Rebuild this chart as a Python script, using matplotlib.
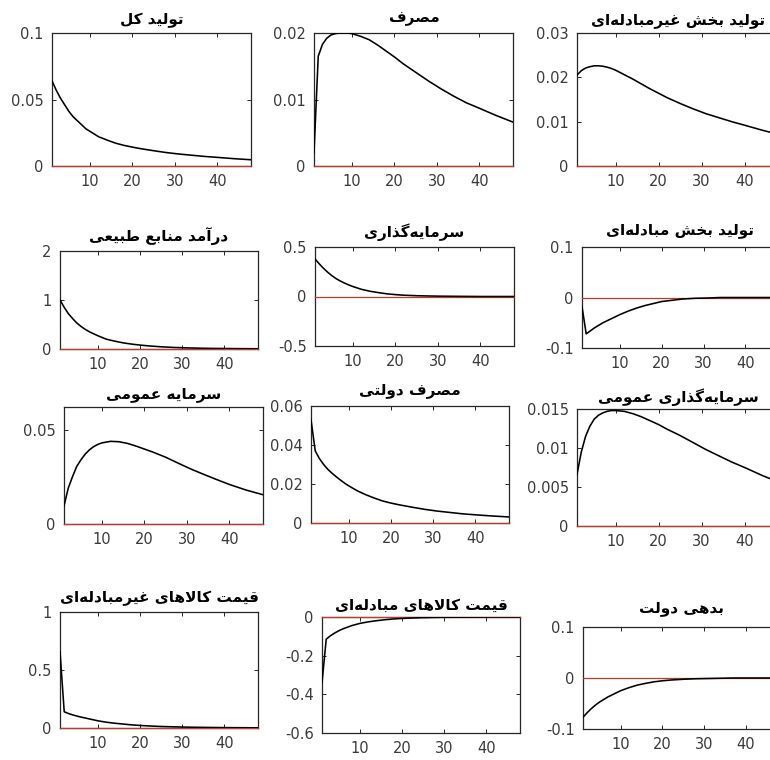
import matplotlib
matplotlib.use("Agg")
import matplotlib.pyplot as plt

X = [1, 2, 3, 4, 5, 6, 7, 8, 9, 10, 12, 14, 16, 18, 20, 22, 25, 28, 31, 34, 37, 40, 44, 48]

output_total = [0.064, 0.057, 0.051, 0.046, 0.041, 0.037, 0.034, 0.031, 0.028, 0.026, 0.022, 0.0195,
                0.0172, 0.0155, 0.0142, 0.013, 0.0115, 0.0101, 0.009, 0.0081, 0.0072, 0.0065, 0.0055, 0.0047]
consumption = [0.002, 0.0165, 0.0183, 0.0192, 0.0197, 0.0199, 0.0200, 0.0200, 0.0200, 0.0199, 0.0195, 0.0190,
               0.0182, 0.0173, 0.0164, 0.0154, 0.0141, 0.0128, 0.0116, 0.0105, 0.0095, 0.0087, 0.0076, 0.0066]
output_nontraded = [0.0205, 0.0215, 0.0221, 0.0224, 0.0226, 0.0226, 0.0225, 0.0223, 0.0220, 0.0216, 0.0206, 0.0196,
                    0.0185, 0.0174, 0.0164, 0.0154, 0.0141, 0.0129, 0.0118, 0.0109, 0.0100, 0.0092, 0.0081, 0.0071]
resource_income = [1.0, 0.85, 0.72, 0.62, 0.53, 0.46, 0.40, 0.35, 0.31, 0.27, 0.20, 0.16,
                   0.125, 0.10, 0.08, 0.064, 0.045, 0.032, 0.023, 0.017, 0.012, 0.010, 0.007, 0.005]
investment = [0.38, 0.33, 0.285, 0.245, 0.21, 0.18, 0.156, 0.135, 0.116, 0.10, 0.072, 0.053,
              0.039, 0.027, 0.019, 0.013, 0.008, 0.005, 0.003, 0.002, 0.001, 0.0, 0.0, 0.0]
output_traded = [-0.018, -0.072, -0.066, -0.060, -0.055, -0.050, -0.046, -0.042, -0.038, -0.034, -0.027, -0.021,
                 -0.016, -0.012, -0.008, -0.006, -0.003, -0.0015, -0.001, 0.0, 0.0, 0.0, 0.0, 0.0]
public_capital = [0.0095, 0.019, 0.025, 0.0305, 0.034, 0.037, 0.0393, 0.041, 0.0422, 0.043, 0.0438, 0.0436,
                  0.0427, 0.0413, 0.0397, 0.0381, 0.0354, 0.0322, 0.0291, 0.0263, 0.0236, 0.0210, 0.0180, 0.0155]
gov_consumption = [0.053, 0.037, 0.033, 0.030, 0.0275, 0.0255, 0.0237, 0.022, 0.0204, 0.019, 0.0165, 0.0145,
                   0.0128, 0.0113, 0.0102, 0.0093, 0.0081, 0.0070, 0.0061, 0.0054, 0.0047, 0.0042, 0.0036, 0.0031]
public_investment = [0.0066, 0.0095, 0.0115, 0.0128, 0.0137, 0.0142, 0.0145, 0.0147, 0.0148, 0.0148, 0.0147, 0.0144,
                     0.0140, 0.0135, 0.0130, 0.0124, 0.0116, 0.0107, 0.0098, 0.0090, 0.0082, 0.0075, 0.0065, 0.0056]
price_nontraded = [0.66, 0.14, 0.125, 0.113, 0.103, 0.094, 0.086, 0.078, 0.070, 0.062, 0.050, 0.041,
                   0.034, 0.027, 0.022, 0.018, 0.013, 0.010, 0.0075, 0.0058, 0.0045, 0.0035, 0.0025, 0.0015]
price_traded = [-0.34, -0.115, -0.097, -0.083, -0.071, -0.061, -0.053, -0.045, -0.039, -0.033, -0.025, -0.019,
                -0.014, -0.010, -0.0075, -0.0055, -0.0035, -0.002, -0.0013, -0.0008, -0.0004, 0.0, 0.0, 0.0]
gov_debt = [-0.077, -0.068, -0.060, -0.053, -0.047, -0.042, -0.037, -0.033, -0.029, -0.025, -0.019, -0.014,
            -0.0105, -0.0075, -0.0055, -0.004, -0.0025, -0.0015, -0.001, -0.0005, 0.0, 0.0, 0.0, 0.0]

TITLES = [
    "تولید کل", "مصرف", "تولید بخش غیرمبادله\u200cای",
    "درآمد منابع طبیعی", "سرمایه\u200cگذاری", "تولید بخش مبادله\u200cای",
    "سرمایه عمومی", "مصرف دولتی", "سرمایه\u200cگذاری عمومی",
    "قیمت کالاهای غیرمبادله\u200cای", "قیمت کالاهای مبادله\u200cای", "بدهی دولت",
]
SERIES = [output_total, consumption, output_nontraded,
          resource_income, investment, output_traded,
          public_capital, gov_consumption, public_investment,
          price_nontraded, price_traded, gov_debt]
YLIMS = [(0, 0.1), (0, 0.02), (0, 0.03),
         (0, 2), (-0.5, 0.5), (-0.1, 0.1),
         (0, 0.062), (0, 0.06), (0, 0.015),
         (0, 1), (-0.6, 0), (-0.1, 0.1)]
YTICKS = [[0, 0.05, 0.1], [0, 0.01, 0.02], [0, 0.01, 0.02, 0.03],
          [0, 1, 2], [-0.5, 0, 0.5], [-0.1, 0, 0.1],
          [0, 0.05], [0, 0.02, 0.04, 0.06], [0, 0.005, 0.01, 0.015],
          [0, 0.5, 1], [-0.6, -0.4, -0.2, 0], [-0.1, 0, 0.1]]
YTICKLABELS = [["0", "0.05", "0.1"], ["0", "0.01", "0.02"], ["0", "0.01", "0.02", "0.03"],
               ["0", "1", "2"], ["-0.5", "0", "0.5"], ["-0.1", "0", "0.1"],
               ["0", "0.05"], ["0", "0.02", "0.04", "0.06"], ["0", "0.005", "0.01", "0.015"],
               ["0", "0.5", "1"], ["-0.6", "-0.4", "-0.2", "0"], ["-0.1", "0", "0.1"]]

# axes boxes in pixels: left, top, right, bottom ; title centre y in pixels
BOXES = [(52, 33, 251, 166), (314, 33, 513, 166), (577, 33, 779, 166),
         (60, 251, 258, 349), (315, 247, 514, 346), (582, 247, 779, 348),
         (64, 407, 263, 524), (311, 406, 509, 523), (577, 409, 779, 526),
         (60, 612, 258, 728), (322, 617, 520, 733), (583, 627, 779, 729)]
TITLE_Y = [20, 19, 21, 236, 232, 231, 395, 391, 397, 598, 605, 608]

W, H = 770, 760

# --- minimal Arabic/Persian shaping (matplotlib has no complex text layout) ---
FORMS = {  # isolated, final, initial, medial
    "\u0627": ("\uFE8D", "\uFE8E", None, None),
    "\u0622": ("\uFE81", "\uFE82", None, None),
    "\u0628": ("\uFE8F", "\uFE90", "\uFE91", "\uFE92"),
    "\u062A": ("\uFE95", "\uFE96", "\uFE97", "\uFE98"),
    "\u062E": ("\uFEA5", "\uFEA6", "\uFEA7", "\uFEA8"),
    "\u062F": ("\uFEA9", "\uFEAA", None, None),
    "\u0630": ("\uFEAB", "\uFEAC", None, None),
    "\u0631": ("\uFEAD", "\uFEAE", None, None),
    "\u0633": ("\uFEB1", "\uFEB2", "\uFEB3", "\uFEB4"),
    "\u0634": ("\uFEB5", "\uFEB6", "\uFEB7", "\uFEB8"),
    "\u0635": ("\uFEB9", "\uFEBA", "\uFEBB", "\uFEBC"),
    "\u0637": ("\uFEC1", "\uFEC2", "\uFEC3", "\uFEC4"),
    "\u0639": ("\uFEC9", "\uFECA", "\uFECB", "\uFECC"),
    "\u063A": ("\uFECD", "\uFECE", "\uFECF", "\uFED0"),
    "\u0641": ("\uFED1", "\uFED2", "\uFED3", "\uFED4"),
    "\u0642": ("\uFED5", "\uFED6", "\uFED7", "\uFED8"),
    "\u0644": ("\uFEDD", "\uFEDE", "\uFEDF", "\uFEE0"),
    "\u0645": ("\uFEE1", "\uFEE2", "\uFEE3", "\uFEE4"),
    "\u0646": ("\uFEE5", "\uFEE6", "\uFEE7", "\uFEE8"),
    "\u0647": ("\uFEE9", "\uFEEA", "\uFEEB", "\uFEEC"),
    "\u0648": ("\uFEED", "\uFEEE", None, None),
    "\u06CC": ("\uFBFC", "\uFBFD", "\uFBFE", "\uFBFF"),
    "\u06A9": ("\uFB8E", "\uFB8F", "\uFB90", "\uFB91"),
    "\u06AF": ("\uFB92", "\uFB93", "\uFB94", "\uFB95"),
}
LAM_ALEF = {"\u0627": ("\uFEFB", "\uFEFC"), "\u0622": ("\uFEF5", "\uFEF6")}


def shape(text):
    out, prev_joins, i = [], False, 0
    while i < len(text):
        c = text[i]
        if c not in FORMS:
            if c != "\u200c":
                out.append(c)
            prev_joins = False
            i += 1
            continue
        if c == "\u0644" and i + 1 < len(text) and text[i + 1] in LAM_ALEF:
            iso, fin = LAM_ALEF[text[i + 1]]
            out.append(fin if prev_joins else iso)
            prev_joins = False
            i += 2
            continue
        iso, fin, ini, med = FORMS[c]
        nxt = text[i + 1] if i + 1 < len(text) else ""
        fwd = ini is not None and nxt in FORMS
        if prev_joins and fwd:
            out.append(med)
        elif prev_joins:
            out.append(fin)
        elif fwd:
            out.append(ini)
        else:
            out.append(iso)
        prev_joins = ini is not None
        i += 1
    return "".join(reversed(out))


plt.rcParams.update({
    "font.family": "DejaVu Sans",
    "font.size": 10.5,
    "axes.linewidth": 0.9,
    "axes.edgecolor": "#262626",
    "xtick.color": "#262626",
    "ytick.color": "#262626",
    "xtick.labelcolor": "#3a3a3a",
    "ytick.labelcolor": "#3a3a3a",
})

fig = plt.figure(figsize=(W / 100, H / 100), dpi=100)
fig.patch.set_facecolor("white")

for k in range(12):
    l, t, r, b = BOXES[k]
    ax = fig.add_axes([l / W, 1 - b / H, (r - l) / W, (b - t) / H])
    ax.plot(X, SERIES[k], color="black", linewidth=1.15, zorder=4)
    ax.axhline(0, color="#c0392b", linewidth=0.9, zorder=3, clip_on=False)
    ax.set_xlim(1, 48)
    ax.set_ylim(*YLIMS[k])
    ax.set_xticks([10, 20, 30, 40])
    ax.set_yticks(YTICKS[k])
    ax.set_yticklabels(YTICKLABELS[k])
    ax.tick_params(direction="in", length=3, width=0.7, top=True, right=True,
                   labelsize=10.5, pad=6)
    fig.text((l + r) / 2 / W, 1 - TITLE_Y[k] / H, shape(TITLES[k]),
             ha="center", va="center", fontsize=11, fontweight="bold", color="black")

fig.savefig("out.png", dpi=100)
